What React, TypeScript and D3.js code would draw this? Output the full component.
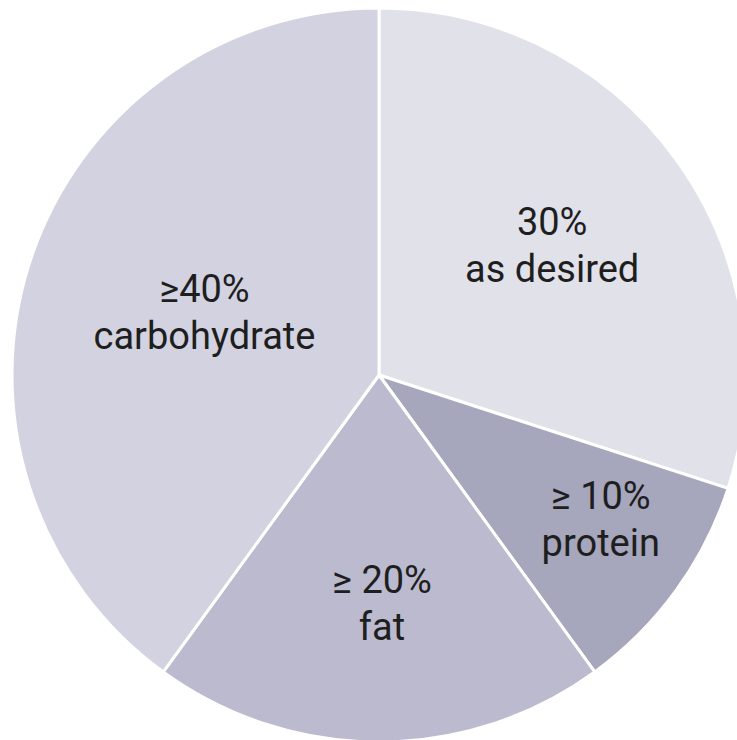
import React from "react";
import * as d3 from "d3";

const categories = ["as desired", "protein", "fat", "carbohydrate"];
const percentLabels = ["30%", "≥ 10%", "≥ 20%", "≥40%"];
const values = [30, 10, 20, 40];
const colors = ["#e1e1ea", "#a6a6bd", "#bbbace", "#d3d2e0"];
const labelRadiusFrac = [0.59, 0.72, 0.62, 0.5];
const labelShift = [
  [-2, -7],
  [8, -15],
  [3, -4],
  [0, -10],
];

const W = 737;
const H = 740;
const cx = 379;
const cy = 375;
const R = 367;

export default function App() {
  const pie = d3.pie<number>().sort(null).value((d) => d)(values);
  const arc = d3.arc<d3.PieArcDatum<number>>().innerRadius(0).outerRadius(R);
  return (
    <svg
      width={W}
      height={H}
      style={{ position: "fixed", left: 0, top: 0, display: "block", background: "#fff" }}
    >
      <g transform={`translate(${cx},${cy})`}>
        {pie.map((p, i) => (
          <path key={i} d={arc(p) || ""} fill={colors[i]} stroke="#fff" strokeWidth={3} strokeLinejoin="round" />
        ))}
        {pie.map((p, i) => {
          const lr = R * labelRadiusFrac[i];
          const la = d3.arc<d3.PieArcDatum<number>>().innerRadius(lr).outerRadius(lr);
          const [x0, y0] = la.centroid(p);
          const x = x0 + labelShift[i][0];
          const y = y0 + labelShift[i][1];
          return (
            <text
              key={"t" + i}
              x={x}
              y={y}
              textAnchor="middle"
              fontFamily="Roboto, 'DejaVu Sans', sans-serif"
              fontSize={38}
              fill="#1e1e1e"
            >
              <tspan x={x} dy={-6}>{percentLabels[i]}</tspan>
              <tspan x={x} dy={47}>{categories[i]}</tspan>
            </text>
          );
        })}
      </g>
    </svg>
  );
}
